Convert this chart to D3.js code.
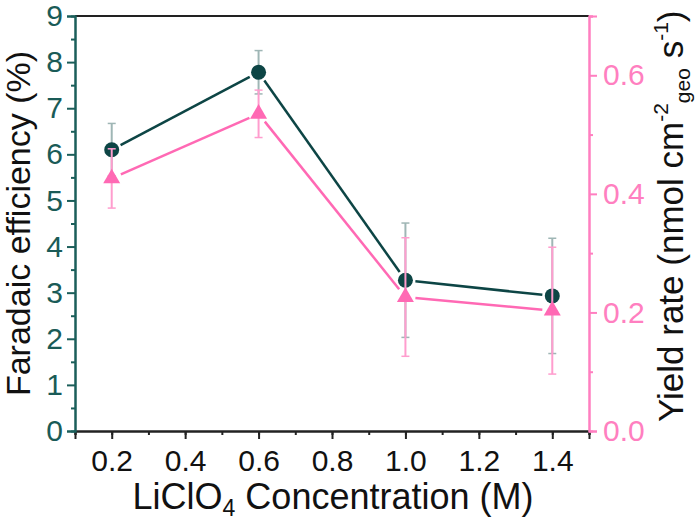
<!DOCTYPE html>
<html><head><meta charset="utf-8">
<script src="https://cdn.jsdelivr.net/npm/d3@7"></script>
<style>body{margin:0;background:#fff}svg{display:block}text{font-family:"Liberation Sans",Arial,sans-serif}</style>
</head><body>
<svg id="c" width="696" height="522"></svg>
<script>
const concentrations = [0.2, 0.6, 1.0, 1.4];
const faradaicEff = [6.10, 7.78, 3.27, 2.93];
const faradaicErr = [0.57, 0.47, 1.24, 1.25];
const yieldRate = [0.426, 0.535, 0.226, 0.203];
const yieldErr = [0.050, 0.040, 0.100, 0.107];
const xTicks = [0.2, 0.4, 0.6, 0.8, 1.0, 1.2, 1.4];
const leftTicks = [0,1,2,3,4,5,6,7,8,9];
const rightTicks = [0.0, 0.2, 0.4, 0.6];

const teal = "#0d4545", tealAxis = "#1b5e5a", tealErr = "#9fb6b5";
const pink = "#ff69b4", pinkErr = "#ff9dce", pinkAxis = "#ff7fc0";

const svg = d3.select("#c");
const L = 75, R = 589, T = 16, B = 431;
const x = d3.scaleLinear().domain([0.1, 1.5]).range([L, R]);
const yL = d3.scaleLinear().domain([0, 9]).range([B, T]);
const yR = d3.scaleLinear().domain([0, 0.7]).range([B, T]);

svg.append("line").attr("x1", L).attr("x2", R).attr("y1", T).attr("y2", T)
  .attr("stroke", "#222").attr("stroke-width", 2);

const gx = svg.append("g").attr("transform", `translate(0,${B})`);
gx.call(d3.axisBottom(x).tickValues(d3.range(0.1, 1.51, 0.1)).tickSize(4).tickFormat(""));
const gx2 = svg.append("g").attr("transform", `translate(0,${B})`);
gx2.call(d3.axisBottom(x).tickValues(xTicks).tickSize(8).tickPadding(11).tickFormat(d3.format(".1f")));
[gx, gx2].forEach(g => {
  g.select(".domain").attr("stroke", "#222").attr("stroke-width", 2);
  g.selectAll(".tick line").attr("stroke", "#222").attr("stroke-width", 2);
});
gx2.selectAll(".tick text").attr("font-size", 30).attr("fill", "#111").attr("font-family", "Liberation Sans");

const gl = svg.append("g").attr("transform", `translate(${L},0)`);
gl.call(d3.axisLeft(yL).tickValues(d3.range(0.5, 9, 1)).tickSize(4).tickFormat(""));
const gl2 = svg.append("g").attr("transform", `translate(${L},0)`);
gl2.call(d3.axisLeft(yL).tickValues(leftTicks).tickSize(8).tickPadding(4).tickFormat(d3.format("d")));
[gl, gl2].forEach(g => {
  g.select(".domain").attr("stroke", tealAxis).attr("stroke-width", 2);
  g.selectAll(".tick line").attr("stroke", tealAxis).attr("stroke-width", 2);
});
gl2.selectAll(".tick text").attr("font-size", 30).attr("fill", "#1a5b57").attr("font-family", "Liberation Sans");

const gr = svg.append("g").attr("transform", `translate(${R},0)`);
gr.call(d3.axisRight(yR).tickValues([0.1, 0.3, 0.5, 0.7]).tickSize(4).tickFormat(""));
const gr2 = svg.append("g").attr("transform", `translate(${R},0)`);
gr2.call(d3.axisRight(yR).tickValues(rightTicks).tickSize(8).tickPadding(6).tickFormat(d3.format(".1f")));
[gr, gr2].forEach(g => {
  g.select(".domain").attr("stroke", pinkAxis).attr("stroke-width", 2);
  g.selectAll(".tick line").attr("stroke", pinkAxis).attr("stroke-width", 2);
});
gr2.selectAll(".tick text").attr("font-size", 30).attr("fill", pinkAxis).attr("font-family", "Liberation Sans");

function drawSeries(vals, errs, y, lineColor, errColor, markerFn, gap) {
  const g = svg.append("g");
  const pts = concentrations.map((c, i) => ({x: x(c), y: y(vals[i]), lo: y(vals[i] - errs[i]), hi: y(vals[i] + errs[i])}));
  pts.forEach(p => {
    g.append("line").attr("x1", p.x).attr("x2", p.x).attr("y1", p.lo).attr("y2", p.hi)
      .attr("stroke", errColor).attr("stroke-width", 2);
    [p.lo, p.hi].forEach(v => g.append("line").attr("x1", p.x - 4).attr("x2", p.x + 4)
      .attr("y1", v).attr("y2", v).attr("stroke", errColor).attr("stroke-width", 1.5));
  });
  for (let i = 0; i < pts.length - 1; i++) {
    const a = pts[i], b = pts[i + 1];
    const dx = b.x - a.x, dy = b.y - a.y, len = Math.hypot(dx, dy);
    const ux = dx / len, uy = dy / len;
    g.append("line").attr("x1", a.x + ux * gap).attr("y1", a.y + uy * gap)
      .attr("x2", b.x - ux * gap).attr("y2", b.y - uy * gap)
      .attr("stroke", lineColor).attr("stroke-width", 2.5);
  }
  pts.forEach(p => markerFn(g, p));
}

drawSeries(faradaicEff, faradaicErr, yL, teal, tealErr,
  (g, p) => g.append("circle").attr("cx", p.x).attr("cy", p.y).attr("r", 7.5).attr("fill", teal), 10);
drawSeries(yieldRate, yieldErr, yR, pink, pinkErr,
  (g, p) => g.append("path").attr("d", d3.symbol().type(d3.symbolTriangle).size(125)())
    .attr("transform", `translate(${p.x},${p.y})`).attr("fill", pink), 10);

svg.append("text").attr("transform", `translate(30,${(T + B) / 2}) rotate(-90)`)
  .attr("text-anchor", "middle").attr("font-size", 34).attr("fill", "#111")
  .text("Faradaic efficiency (%)");

const xt = svg.append("text").attr("x", (L + R) / 2 + 1).attr("y", 509)
  .attr("text-anchor", "middle").attr("font-size", 36).attr("fill", "#111");
xt.append("tspan").text("LiClO");
xt.append("tspan").attr("font-size", 23).attr("dy", 7).text("4");
xt.append("tspan").attr("dy", -7).text(" Concentration (M)");

const yt = svg.append("text").attr("transform", `translate(683,422) rotate(-90)`)
  .attr("text-anchor", "start").attr("font-size", 35).attr("fill", "#111");
yt.append("tspan").text("Yield rate (nmol cm");
yt.append("tspan").attr("font-size", 21).attr("dy", -15).text("-2");
yt.append("tspan").attr("font-size", 21).attr("dy", 22).text("geo");
yt.append("tspan").attr("dy", -7).text(" s");
yt.append("tspan").attr("font-size", 21).attr("dy", -15).text("-1");
yt.append("tspan").attr("dy", 15).text(")");
</script>
</body></html>
